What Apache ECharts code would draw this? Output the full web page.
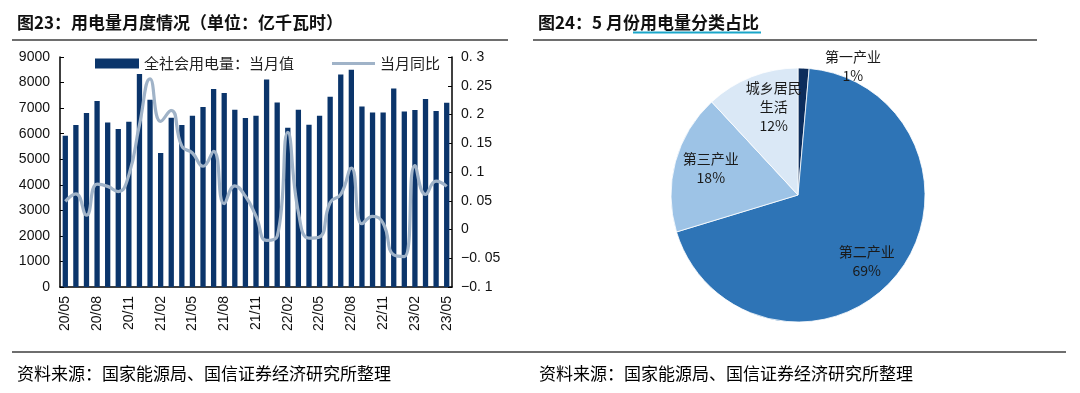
<!DOCTYPE html>
<html><head><meta charset="utf-8">
<script src="https://cdn.jsdelivr.net/npm/echarts@6/dist/echarts.min.js"></script>
<style>html,body{margin:0;padding:0;background:#fff}#c{width:1080px;height:393px}</style>
</head><body><div id="c"></div>
<script>
const months = ['20/05','20/06','20/07','20/08','20/09','20/10','20/11','20/12','21/01','21/02','21/03','21/04','21/05','21/06','21/07','21/08','21/09','21/10','21/11','21/12','22/01','22/02','22/03','22/04','22/05','22/06','22/07','22/08','22/09','22/10','22/11','22/12','23/01','23/02','23/03','23/04','23/05'];
const monthlyUse = [5919,6336,6806,7275,6441,6180,6467,8331,7327,5241,6623,6336,6701,7040,7745,7588,6936,6610,6701,8123,7223,6232,6936,6349,6701,7445,8318,8501,7067,6832,6832,7771,6871,6923,7353,6884,7210];
const yoy = [0.049,0.062,0.025,0.079,0.075,0.066,0.095,0.182,0.262,0.188,0.207,0.145,0.133,0.110,0.136,0.045,0.076,0.058,0.023,-0.019,-0.012,0.169,0.030,-0.015,-0.013,0.047,0.061,0.107,0.010,0.023,0.011,-0.044,-0.047,0.111,0.061,0.084,0.075];
const seriesNames = ['全社会用电量：当月值','当月同比'];
const pieNames = ['第一产业','第二产业','第三产业','城乡居民\n生活'];
const pieValues = [1.4,68.9,17.8,11.9];
const titles = ['图23：用电量月度情况（单位：亿千瓦时）','图24：5 月份用电量分类占比'];
const sourceText = '资料来源：国家能源局、国信证券经济研究所整理';

const FONT = "'Noto Sans CJK SC', sans-serif";
const pieColors = ['#0c2d5c','#2e74b6','#9dc3e6','#dae8f6'];
const pieLabelOffsets = [[52,-62],[17,24],[-23,-9],[0,-26]];
const lineColor = '#a0b3c8';

const chart = echarts.init(document.getElementById('c'), null, {renderer:'canvas'});
const axisFont = {fontFamily:'Arial, Liberation Sans', fontSize:14, color:'#111'};
const titleStyle = {fontFamily:FONT, fontSize:17, fontWeight:'bold', color:'#111'};
const srcStyle = {fontFamily:FONT, fontSize:17, fontWeight:'normal', color:'#000'};
chart.setOption({
  animation:false,
  title:[
    {text:titles[0], left:12, top:9, textStyle:titleStyle},
    {text:titles[1], left:533, top:9, textStyle:titleStyle},
    {text:sourceText, left:12, top:360, textStyle:srcStyle},
    {text:sourceText, left:534, top:360, textStyle:srcStyle}
  ],
  graphic:[
    {type:'line', shape:{x1:12,y1:40,x2:508,y2:40}, style:{stroke:'#6e6e6e', lineWidth:2}},
    {type:'line', shape:{x1:533,y1:40,x2:1037,y2:40}, style:{stroke:'#6e6e6e', lineWidth:2}},
    {type:'line', shape:{x1:12,y1:352,x2:1066,y2:352}, style:{stroke:'#6e6e6e', lineWidth:2}},
    {type:'line', shape:{x1:633,y1:32.5,x2:761,y2:32.5}, style:{stroke:'#1aa6c9', lineWidth:2}}
  ],
  legend:[
    {left:90, top:51, itemWidth:44, itemHeight:10,
     textStyle:{fontFamily:FONT, fontSize:15, color:'#222'},
     data:[{name:seriesNames[0], icon:'rect'}]},
    {left:327, top:51, itemWidth:43, itemHeight:3,
     textStyle:{fontFamily:FONT, fontSize:15, color:'#222'},
     data:[{name:seriesNames[1], icon:'rect', itemStyle:{color:lineColor}}]}
  ],
  grid:{left:60, right:628, top:57, bottom:106, containLabel:false},
  xAxis:{
    type:'category', data:months, boundaryGap:true,
    axisLine:{lineStyle:{color:'#000', width:1.5}},
    axisTick:{inside:true, length:5, interval:2, lineStyle:{color:'#000'}},
    axisLabel:Object.assign({interval:2, rotate:90, margin:9}, axisFont)
  },
  yAxis:[
    {type:'value', min:0, max:9000, interval:1000, position:'left',
     splitLine:{show:false},
     axisLine:{show:true, lineStyle:{color:'#000', width:1.5}},
     axisTick:{show:true, inside:true, length:4, lineStyle:{color:'#000'}},
     axisLabel:Object.assign({margin:10, formatter:function(v){return String(v);}}, axisFont)},
    {type:'value', min:-0.1, max:0.3, interval:0.05, position:'right',
     splitLine:{show:false},
     axisLine:{show:true, lineStyle:{color:'#000', width:1.5}},
     axisTick:{show:true, inside:true, length:4, lineStyle:{color:'#000'}},
     axisLabel:Object.assign({margin:9, formatter:function(v){
        const r = Math.round(v*100)/100;
        if (r===0) return '0';
        return String(r).replace('.', '. ').replace('-', '−');
     }}, axisFont)}
  ],
  series:[
    {name:seriesNames[0], type:'bar', data:monthlyUse, barWidth:'50%', itemStyle:{color:'#0b356b'}, yAxisIndex:0, z:2},
    {name:seriesNames[1], type:'line', data:yoy, yAxisIndex:1, smooth:0.5, symbol:'none',
     lineStyle:{color:lineColor, width:3.2}, itemStyle:{color:lineColor}, z:3},
    {type:'pie', center:[798,195], radius:127, startAngle:90, clockwise:true,
     percentPrecision:0, labelLine:{show:false},
     itemStyle:{borderColor:'#ffffff', borderWidth:0.8},
     data:pieNames.map(function(n,i){
       return {name:n, value:pieValues[i], itemStyle:{color:pieColors[i]},
         label:{show:true, position:'inside', offset:pieLabelOffsets[i],
           formatter:'{b}\n{d}%', fontFamily:FONT, fontSize:14, lineHeight:19, color:'#1a1a1a'}};
     }),
     emphasis:{disabled:true}
    }
  ]
});
</script></body></html>
